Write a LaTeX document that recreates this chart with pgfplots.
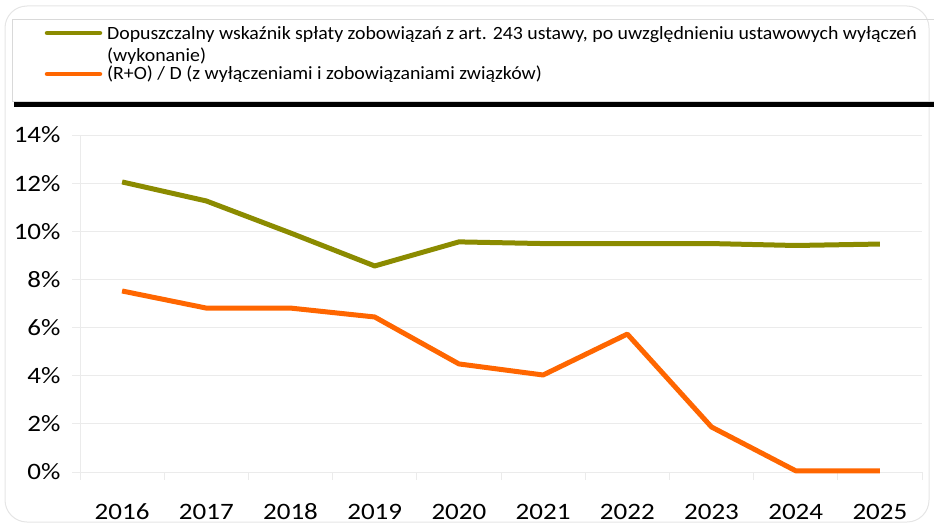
\documentclass[border=0pt]{standalone}
\usepackage{pgfplots}
\pgfplotsset{compat=1.18}
\usepackage{fontspec}
\setmainfont{Carlito}[Numbers=Lining]
\newfontfamily\tickfont{Carlito}[Numbers=Lining, FakeStretch=1.15]
\newfontfamily\legfont{Carlito}[Numbers=Lining, FakeStretch=1.06]
\definecolor{olive1}{HTML}{8B8B00}
\definecolor{orange1}{HTML}{FF6600}
\definecolor{gridc}{HTML}{EBEBEB}
\begin{document}
\begin{tikzpicture}
\path[use as bounding box] (0pt,0pt) rectangle (934pt,-527pt);
\draw[gray!20, line width=1pt, rounded corners=22pt] (5pt,-6pt) rectangle (929pt,-522pt);
\draw[gray!30, line width=0.8pt] (934pt,-19pt) -- (12pt,-19pt) -- (12pt,-101pt) -- (934pt,-101pt);
\draw[black, line width=5.5pt] (14pt,-104.5pt) -- (934pt,-104.5pt);
\draw[olive1, line width=4.5pt, line cap=round] (47pt,-33pt) -- (100pt,-33pt);
\draw[orange1, line width=4.5pt, line cap=round] (47pt,-74pt) -- (100pt,-74pt);
\begin{scope}[every node/.style={anchor=base west, inner sep=0pt, font=\legfont\fontsize{18.7}{19}\selectfont}]
\node at (107pt,-39.5pt) {Dopuszczalny wskaźnik spłaty zobowiązań z art. 243 ustawy, po uwzględnieniu ustawowych wyłączeń};
\node at (107pt,-61.5pt) {(wykonanie)};
\node at (107pt,-80pt) {(R+O) / D (z wyłączeniami i zobowiązaniami związków)};
\end{scope}
\begin{axis}[
  at={(80pt,-472pt)}, anchor=south west,
  scale only axis, width=842pt, height=337pt,
  xmin=-0.5, xmax=9.5, ymin=0, ymax=14,
  xtick={-0.5,0.5,...,9.5},
  x tick label as interval,
  xticklabels={2016,2017,2018,2019,2020,2021,2022,2023,2024,2025},
  ytick={0,2,...,14},
  yticklabel={\pgfmathprintnumber{\tick}\%},
  axis x line*=bottom, axis y line*=left,
  axis line style={draw=gridc, line width=0.8pt},
  ymajorgrids, grid style={draw=gridc, line width=0.8pt},
  tick align=outside, major tick length=8pt,
  tick style={draw=gridc, line width=0.8pt},
  typeset ticklabels with strut,
  ticklabel style={font=\tickfont\fontsize{23.5}{24}\selectfont},
  xticklabel style={yshift=-19pt},
  yticklabel style={xshift=-8pt},
  /pgf/number format/assume math mode=true,
  clip=false,
]
\addplot[olive1, line width=5pt, line join=round] coordinates {
 (0,12.05) (1,11.26) (2,9.93) (3,8.56) (4,9.56) (5,9.49) (6,9.49) (7,9.49) (8,9.41) (9,9.47)};
\addplot[orange1, line width=5pt, line join=round] coordinates {
 (0,7.52) (1,6.81) (2,6.81) (3,6.44) (4,4.49) (5,4.03) (6,5.73) (7,1.87) (8,0.05) (9,0.05)};
\end{axis}
\end{tikzpicture}
\end{document}
